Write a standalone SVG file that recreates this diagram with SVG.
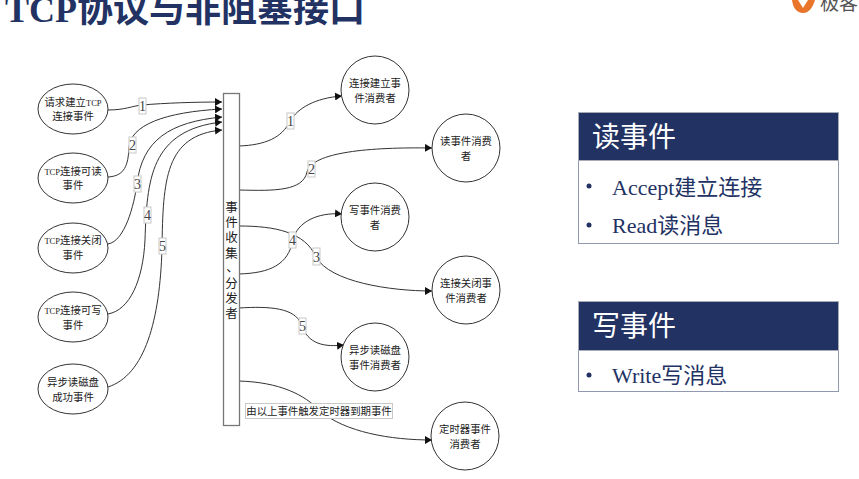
<svg xmlns="http://www.w3.org/2000/svg" width="859" height="479" viewBox="0 0 859 479">
<style>
text{font-family:"Liberation Serif","Noto Sans CJK SC",serif}
.n{fill:#fff;stroke:#333;stroke-width:1}
.t{font-size:10.4px;fill:#222;text-anchor:middle}
.l{font-size:8.500px}
.v{font-size:12.5px;fill:#222;text-anchor:middle}
.c{fill:none;stroke:#333;stroke-width:1}
.lb{fill:#fff;stroke:#c8c8c8;stroke-width:1}
.lt{font-size:14px;fill:#444;text-anchor:middle}
.hd{fill:#223263;stroke:#a8abb5;stroke-width:1}
.bd{fill:#fff;stroke:#223263;stroke-width:1;stroke-dasharray:1 1}
.ht{font-size:28px;fill:#fff}
.bt{font-size:22px;fill:#223263}
.dot{fill:#223263}
</style>
<defs>
<marker id="a" markerUnits="userSpaceOnUse" markerWidth="8" markerHeight="8" refX="7" refY="4" orient="auto"><path d="M0 0L7 4L0 8Z" fill="#111"/></marker>
</defs>
<text id="title" x="5" y="22" font-size="36" font-weight="700" fill="#223263">TCP协议与非阻塞接口</text>
<g id="logo">
<path d="M792 0C793 8 797 13 803 13C809 13 813 7 815 0H808L803 8L798 0Z" fill="#e8752a"/>
<text x="820" y="10" font-size="19" fill="#555" style="font-family:'Noto Sans CJK SC',sans-serif">极客</text>
</g>
<g id="connectors">
<path class="c" marker-end="url(#a)" d="M108 110C125 110 132 106 142 105C165 103 195 102 222 102"/>
<path class="c" marker-end="url(#a)" d="M108 177C125 176 128 165 129 148C130 125 165 112 222 109"/>
<path class="c" marker-end="url(#a)" d="M108 244C125 241 134 205 137 184C142 140 170 122 222 117"/>
<path class="c" marker-end="url(#a)" d="M108 314C130 310 143 280 145 240C147 180 150 130 222 122"/>
<path class="c" marker-end="url(#a)" d="M108 387C145 375 160 320 162 248C163 180 165 135 222 130"/>
<path class="c" marker-end="url(#a)" d="M239 146C265 145 282 138 290 121C298 108 315 98 342 96"/>
<path class="c" marker-end="url(#a)" d="M239 190C275 191 303 191 307 172C312 152 370 147 432 148"/>
<path class="c" marker-end="url(#a)" d="M239 226C275 226 305 232 316 257C330 282 390 291 432 291"/>
<path class="c" marker-end="url(#a)" d="M239 274C270 273 288 265 293 240C297 222 318 212 342 214"/>
<path class="c" marker-end="url(#a)" d="M239 308C270 306 295 308 301 324C308 345 325 347 344 345"/>
<path class="c" marker-end="url(#a)" d="M238 381C280 382 305 395 320 411C345 432 390 440 432 440"/>
</g>
<g id="bar"><rect x="223.500" y="93.500" width="16" height="332" fill="#fff" stroke="#777" stroke-width="1.300"/>
<text class="v" x="231.500" y="212">事</text>
<text class="v" x="231.500" y="227">件</text>
<text class="v" x="231.500" y="242">收</text>
<text class="v" x="231.500" y="258">集</text>
<text class="v" x="232.500" y="272">、</text>
<text class="v" x="231.500" y="288">分</text>
<text class="v" x="231.500" y="303">发</text>
<text class="v" x="231.500" y="318">者</text>
</g>
<g id="src1"><ellipse class="n" cx="73" cy="109" rx="35" ry="25"/><text class="t" x="73" y="106">请求建立<tspan class="l">TCP</tspan></text><text class="t" x="73" y="120">连接事件</text></g>
<g id="src2"><ellipse class="n" cx="73" cy="178" rx="35" ry="25"/><text class="t" x="73" y="175"><tspan class="l">TCP</tspan>连接可读</text><text class="t" x="73" y="189">事件</text></g>
<g id="src3"><ellipse class="n" cx="73" cy="248" rx="35" ry="25"/><text class="t" x="73" y="244"><tspan class="l">TCP</tspan>连接关闭</text><text class="t" x="73" y="259">事件</text></g>
<g id="src4"><ellipse class="n" cx="73" cy="317" rx="35" ry="25"/><text class="t" x="73" y="314"><tspan class="l">TCP</tspan>连接可写</text><text class="t" x="73" y="329">事件</text></g>
<g id="src5"><ellipse class="n" cx="73" cy="389" rx="35" ry="25"/><text class="t" x="73" y="386">异步读磁盘</text><text class="t" x="73" y="401">成功事件</text></g>
<g id="dst1"><circle class="n" cx="375" cy="90" r="34"/><text class="t" x="375" y="87">连接建立事</text><text class="t" x="375" y="102">件消费者</text></g>
<g id="dst2"><circle class="n" cx="466" cy="148" r="34"/><text class="t" x="466" y="145">读事件消费</text><text class="t" x="466" y="160">者</text></g>
<g id="dst3"><circle class="n" cx="375" cy="217" r="34"/><text class="t" x="375" y="214">写事件消费</text><text class="t" x="375" y="229">者</text></g>
<g id="dst4"><circle class="n" cx="466" cy="290" r="34"/><text class="t" x="466" y="287">连接关闭事</text><text class="t" x="466" y="302">件消费者</text></g>
<g id="dst5"><circle class="n" cx="375" cy="357" r="34"/><text class="t" x="375" y="354">异步读磁盘</text><text class="t" x="375" y="369">事件消费者</text></g>
<g id="dst6"><circle class="n" cx="465" cy="436" r="34"/><text class="t" x="465" y="433">定时器事件</text><text class="t" x="465" y="448">消费者</text></g>
<g id="labels">
<rect class="lb" x="139" y="98" width="7" height="16"/><text class="lt" x="142.500" y="111">1</text>
<rect class="lb" x="129" y="137" width="7" height="16"/><text class="lt" x="132.500" y="150">2</text>
<rect class="lb" x="134" y="176" width="7" height="16"/><text class="lt" x="137.500" y="189">3</text>
<rect class="lb" x="144" y="207" width="7" height="16"/><text class="lt" x="147.500" y="220">4</text>
<rect class="lb" x="159" y="238" width="7" height="16"/><text class="lt" x="162.500" y="251">5</text>
<rect class="lb" x="287" y="113" width="7" height="16"/><text class="lt" x="290.500" y="126">1</text>
<rect class="lb" x="308" y="161" width="7" height="16"/><text class="lt" x="311.500" y="174">2</text>
<rect class="lb" x="313" y="248" width="7" height="17"/><text class="lt" x="316.500" y="262">3</text>
<rect class="lb" x="289" y="232" width="7" height="16"/><text class="lt" x="292.500" y="245">4</text>
<rect class="lb" x="299" y="318" width="7" height="16"/><text class="lt" x="302.500" y="331">5</text>
<rect class="lb" x="245.500" y="403.500" width="147" height="15"/><text class="t" x="319" y="415">由以上事件触发定时器到期事件</text>
</g>
<g id="read-panel">
<rect class="bd" x="578.500" y="160.500" width="260" height="83"/>
<rect class="hd" x="578.500" y="112.500" width="260" height="48"/>
<text class="ht" x="592" y="147">读事件</text>
<circle class="dot" cx="589" cy="186" r="2.500"/>
<text class="bt" x="612" y="195">Accept建立连接</text>
<circle class="dot" cx="589" cy="225" r="2.500"/>
<text class="bt" x="612" y="233">Read读消息</text>
</g>
<g id="write-panel">
<rect class="bd" x="578.500" y="350.500" width="260" height="41"/>
<rect class="hd" x="578.500" y="301.500" width="260" height="49"/>
<text class="ht" x="592" y="336">写事件</text>
<circle class="dot" cx="589" cy="375" r="2.500"/>
<text class="bt" x="612" y="383">Write写消息</text>
</g>
</svg>
